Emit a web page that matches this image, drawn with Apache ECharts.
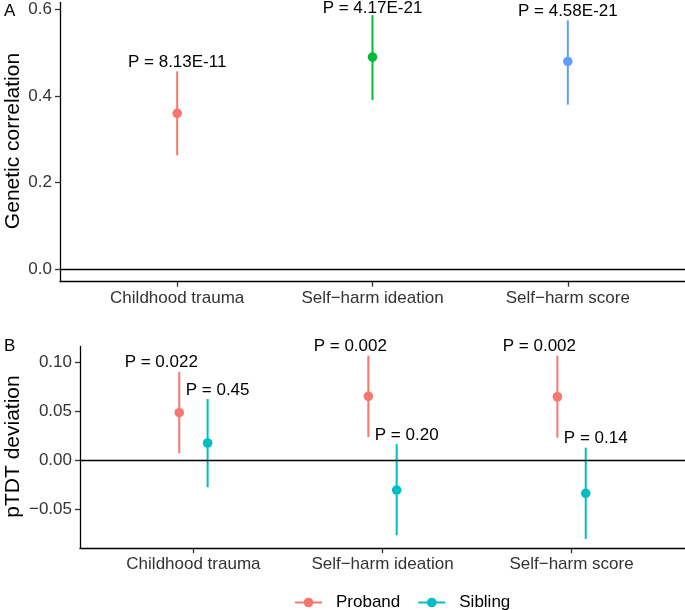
<!DOCTYPE html>
<html>
<head>
<meta charset="utf-8">
<script src="https://cdn.jsdelivr.net/npm/echarts@6/dist/echarts.min.js"></script>
<style>
html, body { margin: 0; padding: 0; background: #fff; }
#chart { width: 685px; height: 610px; }
</style>
</head>
<body>
<div id="chart"></div>
<script>
var categories = ['Childhood trauma', 'Self\u2212harm ideation', 'Self\u2212harm score'];

// panel A: genetic correlation
var rgEst = [0.36, 0.49, 0.48];
var rgLow = [0.263, 0.391, 0.380];
var rgHigh = [0.457, 0.587, 0.575];
var rgP = ['P = 8.13E-11', 'P = 4.17E-21', 'P = 4.58E-21'];
var rgTicks = [0, 0.2, 0.4, 0.6];

// panel B: pTDT deviation
var probandEst = [0.0484, 0.0651, 0.0647];
var probandLow = [0.0068, 0.0235, 0.0228];
var probandHigh = [0.0903, 0.1067, 0.1067];
var probandP = ['P = 0.022', 'P = 0.002', 'P = 0.002'];

var siblingEst = [0.0174, -0.0307, -0.0341];
var siblingLow = [-0.0279, -0.0770, -0.0808];
var siblingHigh = [0.0624, 0.0164, 0.0126];
var siblingP = ['P = 0.45', 'P = 0.20', 'P = 0.14'];
var pdtTicks = [-0.05, 0, 0.05, 0.10];

var FONT = 'Liberation Sans, Arial, sans-serif';
var rgColors = ['#F8766D', '#00BA38', '#619CFF'];
var probandColor = '#F8766D';
var siblingColor = '#00BFC4';
var dodge = 0.075;

function rows(est, low, high, shift) {
	return est.map(function(v, i) {
		return [i + 1 + shift, v, low[i], high[i]];
	});
}

function errorBar(colors, labels, dx) {
	return function(params, api) {
		var x = api.value(0);
		var top = api.coord([x, api.value(3)]);
		var bot = api.coord([x, api.value(2)]);
		var mid = api.coord([x, api.value(1)]);
		var color = colors[params.dataIndex % colors.length];
		return {
			type: 'group',
			children: [
				{type: 'line', shape: {x1: top[0], y1: top[1], x2: bot[0], y2: bot[1]}, style: {stroke: color, lineWidth: 2}},
				{type: 'circle', shape: {cx: mid[0], cy: mid[1], r: 4.8}, style: {fill: color}},
				{type: 'text', x: top[0] + dx, y: Math.max(top[1] - 9, 8), style: {
					text: labels[params.dataIndex], fill: '#000', font: '17px ' + FONT,
					align: 'center', verticalAlign: 'middle'
				}}
			]
		};
	};
}

function zeroLine() {
	return {
		silent: true, symbol: 'none', label: {show: false},
		lineStyle: {color: '#000', type: 'solid', width: 1.3},
		data: [{yAxis: 0}]
	};
}

function xAxis(idx) {
	return {
		gridIndex: idx, type: 'value', min: 0.4, max: 3.6,
		axisLine: {onZero: false, lineStyle: {color: '#000', width: 1.3}},
		axisTick: {customValues: [1, 2, 3], length: 5, lineStyle: {color: '#333', width: 1.3}},
		axisLabel: {
			customValues: [1, 2, 3], margin: 8, fontSize: 17, color: '#333', fontFamily: FONT,
			formatter: function(v) { return categories[Math.round(v) - 1]; }
		},
		splitLine: {show: false}
	};
}

function yAxis(idx, min, max, ticks, digits) {
	return {
		gridIndex: idx, type: 'value', min: min, max: max,
		axisLine: {show: true, onZero: false, lineStyle: {color: '#000', width: 1.3}},
		axisTick: {show: true, customValues: ticks, length: 5, lineStyle: {color: '#333', width: 1.3}},
		axisLabel: {
			customValues: ticks, margin: 8, fontSize: 17, color: '#333', fontFamily: FONT,
			formatter: function(v) { return v.toFixed(digits).replace('-', '\u2212'); }
		},
		splitLine: {show: false}
	};
}

function axisTitle(text, x, y) {
	return {
		type: 'text', x: x, y: y, rotation: Math.PI / 2, silent: true,
		style: {text: text, font: '21px ' + FONT, fill: '#000', align: 'center', verticalAlign: 'middle'}
	};
}

var chart = echarts.init(document.getElementById('chart'), null, {renderer: 'canvas'});

chart.setOption({
	animation: false,
	backgroundColor: '#fff',
	grid: [
		{left: 60, top: 2.4, width: 625, height: 279.3, outerBoundsMode: 'none', containLabel: false},
		{left: 80, top: 346.5, width: 605, height: 201.7, outerBoundsMode: 'none', containLabel: false}
	],
	xAxis: [xAxis(0), xAxis(1)],
	yAxis: [
		yAxis(0, -0.0294, 0.6165, rgTicks, 1),
		yAxis(1, -0.0902, 0.1161, pdtTicks, 2)
	],
	legend: {
		data: ['Proband', 'Sibling'],
		left: 294, top: 594, padding: 0,
		itemWidth: 27, itemHeight: 12, itemGap: 17,
		selectedMode: false,
		textStyle: {fontSize: 17, color: '#000', fontFamily: FONT, padding: [0, 0, 0, 9]}
	},
	graphic: [
		{type: 'text', left: 4, top: 3, style: {text: 'A', font: '17px ' + FONT, fill: '#000'}},
		{type: 'text', left: 4, top: 338, style: {text: 'B', font: '17px ' + FONT, fill: '#000'}},
		axisTitle('Genetic correlation', 13, 141),
		axisTitle('pTDT deviation', 13, 446.5)
	],
	series: [
		{
			name: 'rg', type: 'custom', xAxisIndex: 0, yAxisIndex: 0, clip: false,
			renderItem: errorBar(rgColors, rgP, 0),
			data: rows(rgEst, rgLow, rgHigh, 0),
			markLine: zeroLine()
		},
		{
			name: 'ProbandBars', type: 'custom', xAxisIndex: 1, yAxisIndex: 1, clip: false,
			renderItem: errorBar([probandColor], probandP, -18),
			data: rows(probandEst, probandLow, probandHigh, -dodge),
			markLine: zeroLine()
		},
		{
			name: 'SiblingBars', type: 'custom', xAxisIndex: 1, yAxisIndex: 1, clip: false,
			renderItem: errorBar([siblingColor], siblingP, 10),
			data: rows(siblingEst, siblingLow, siblingHigh, dodge)
		},
		// legend-only series
		{
			name: 'Proband', type: 'line', xAxisIndex: 1, yAxisIndex: 1, data: [],
			color: probandColor, symbol: 'circle', symbolSize: 9, lineStyle: {width: 2}
		},
		{
			name: 'Sibling', type: 'line', xAxisIndex: 1, yAxisIndex: 1, data: [],
			color: siblingColor, symbol: 'circle', symbolSize: 9, lineStyle: {width: 2}
		}
	]
});
</script>
</body>
</html>
